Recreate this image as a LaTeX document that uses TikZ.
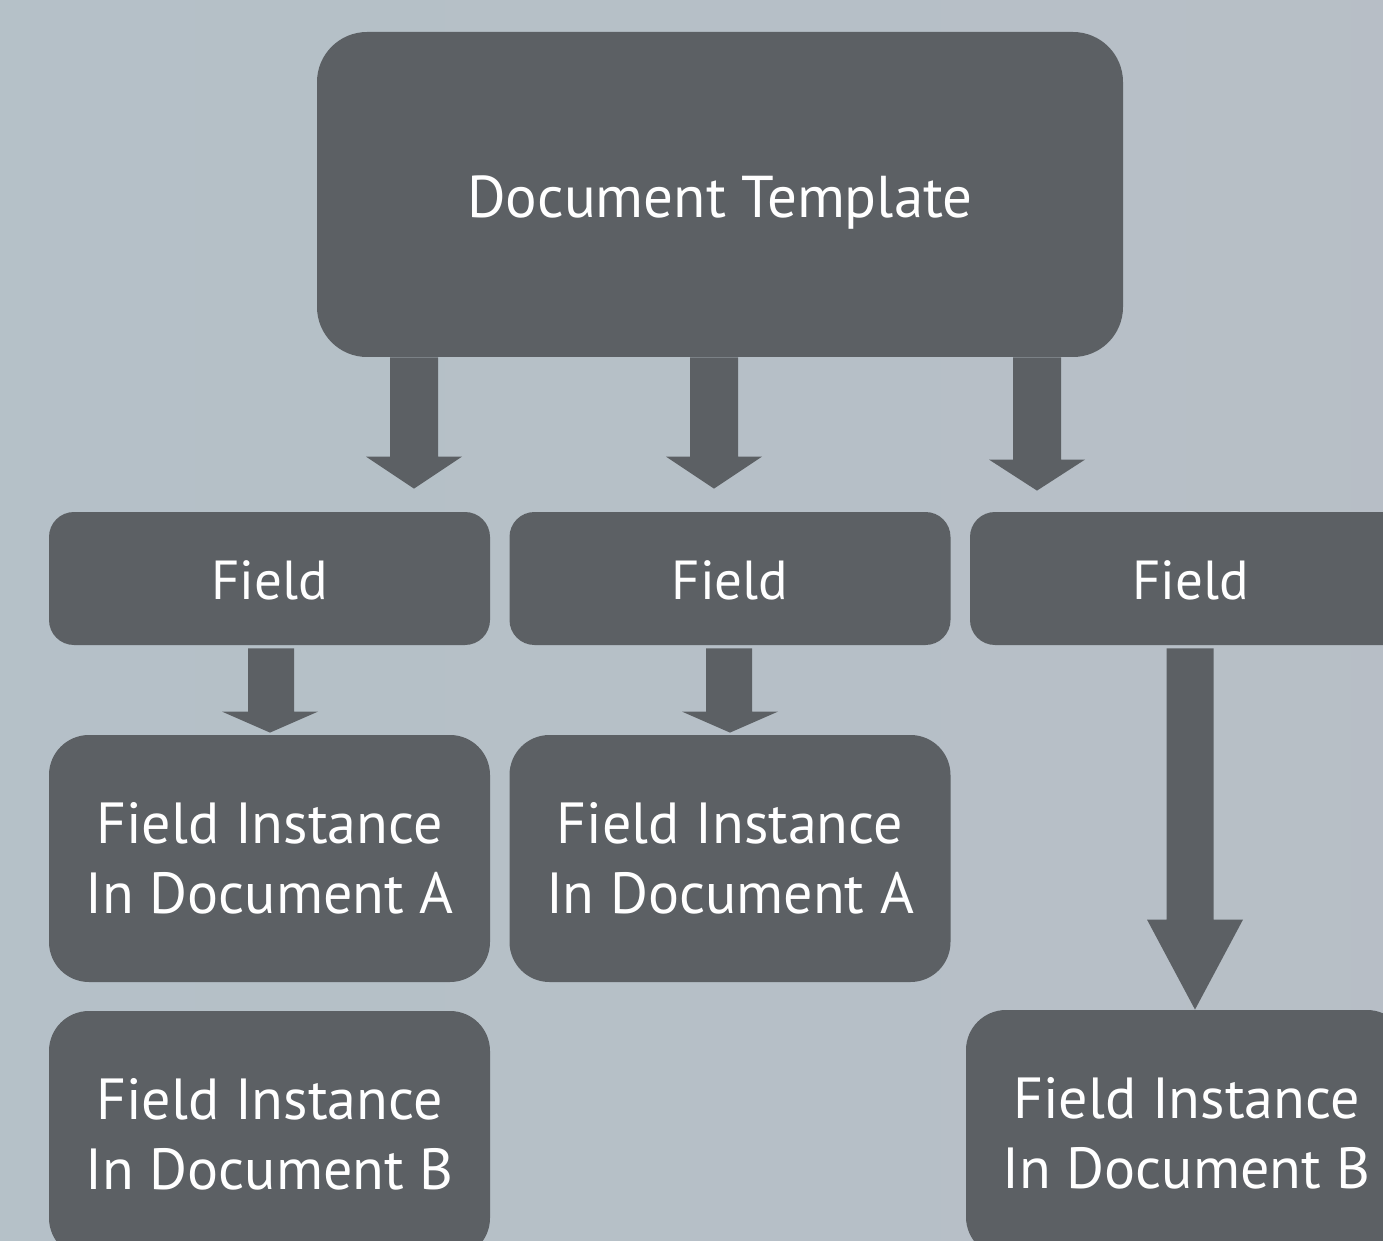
\documentclass[tikz,border=0pt]{standalone}
\usepackage{fontspec}
\setmainfont{PT Sans}
\usetikzlibrary{calc}
\definecolor{bgA}{HTML}{B4C1C8}
\definecolor{bgB}{HTML}{B8BEC6}
\definecolor{boxgrey}{HTML}{5C6064}
\tikzset{
  box/.style={fill=boxgrey, text=white, align=center, inner sep=0pt},
  bigbox/.style={box, minimum width=403pt, minimum height=162.5pt, rounded corners=25pt,
    font=\fontsize{29.5}{36}\selectfont},
  fieldbox/.style={box, minimum width=220.5pt, minimum height=66.5pt, rounded corners=12.5pt,
    font=\fontsize{27.5}{33}\selectfont},
  instbox/.style={box, minimum width=220.5pt, minimum height=123.5pt, rounded corners=20pt,
    font=\fontsize{29}{35}\selectfont},
  blockfill/.style={fill=boxgrey},
}
% lower a label inside its box without changing the box's centring
\newcommand\lowered[2]{\raisebox{-#1}[\height][\depth]{#2}}
% block arrow from #1 to #2: shaft half width #3, head half width #4, head length #5 (pt)
\newcommand\blockarrow[5]{%
  \fill[blockfill] let \p1=(#1), \p2=(#2) in
    (\x1-#3,\y1) -- (\x1-#3,\y2+#5) -- (\x2-#4,\y2+#5) -- (\x2,\y2)
    -- (\x2+#4,\y2+#5) -- (\x1+#3,\y2+#5) -- (\x1+#3,\y1) -- cycle;}
\begin{document}
\begin{tikzpicture}[x=0.5pt, y=-0.5pt]
  % canvas
  \useasboundingbox (0,0) rectangle (1383,1241);
  \clip (0,0) rectangle (1383,1241);
  \shade[shading angle=60, left color=bgA, right color=bgB] (-300,-300) rectangle (1683,1541);

  % boxes
  \node[bigbox] (tpl) at (720,194.5) {\lowered{4pt}{Document Template}};
  \node[fieldbox] (f1) at (269.5,578.5) {\lowered{1pt}{Field}};
  \node[fieldbox] (f2) at (730,578.5) {\lowered{1pt}{Field}};
  \node[fieldbox] (f3) at (1190.5,578.5) {\lowered{1pt}{Field}};
  \node[instbox] (ia1) at (269.5,858.5) {Field Instance\\In Document A};
  \node[instbox] (ia2) at (730,858.5) {Field Instance\\In Document A};
  \node[instbox] (ib1) at (269.5,1134.5) {Field Instance\\In Document B};
  \node[instbox] (ib3) at (1186.5,1133.5) {Field Instance\\In Document B};

  % arrow end points
  \coordinate (a1s) at (414,0 |- tpl.south);
  \coordinate (a1e) at ($(414,0 |- f1.north)+(0,-23)$);
  \coordinate (a2s) at (714,0 |- tpl.south);
  \coordinate (a2e) at ($(714,0 |- f2.north)+(0,-23)$);
  \coordinate (a3s) at (1037,0 |- tpl.south);
  \coordinate (a3e) at ($(1037,0 |- f3.north)+(0,-21)$);
  \coordinate (a4s) at ($(271,0 |- f1.south)+(0,3)$);
  \coordinate (a4e) at ($(270,0 |- ia1.north)+(0,-2)$);
  \coordinate (a5s) at ($(729,0 |- f2.south)+(0,3)$);
  \coordinate (a5e) at ($(730,0 |- ia2.north)+(0,-2)$);
  \coordinate (a6s) at ($(1190,0 |- f3.south)+(0,3)$);
  \coordinate (a6e) at (1195,0 |- ib3.north);

  % block arrows
  \blockarrow{a1s}{a1e}{12pt}{24pt}{16pt}
  \blockarrow{a2s}{a2e}{12pt}{24pt}{16pt}
  \blockarrow{a3s}{a3e}{12pt}{24pt}{15.5pt}
  \blockarrow{a4s}{a4e}{11.5pt}{24pt}{10.5pt}
  \blockarrow{a5s}{a5e}{11.5pt}{24pt}{10.5pt}
  \blockarrow{a6s}{a6e}{11.75pt}{24pt}{45pt}
\end{tikzpicture}
\end{document}
